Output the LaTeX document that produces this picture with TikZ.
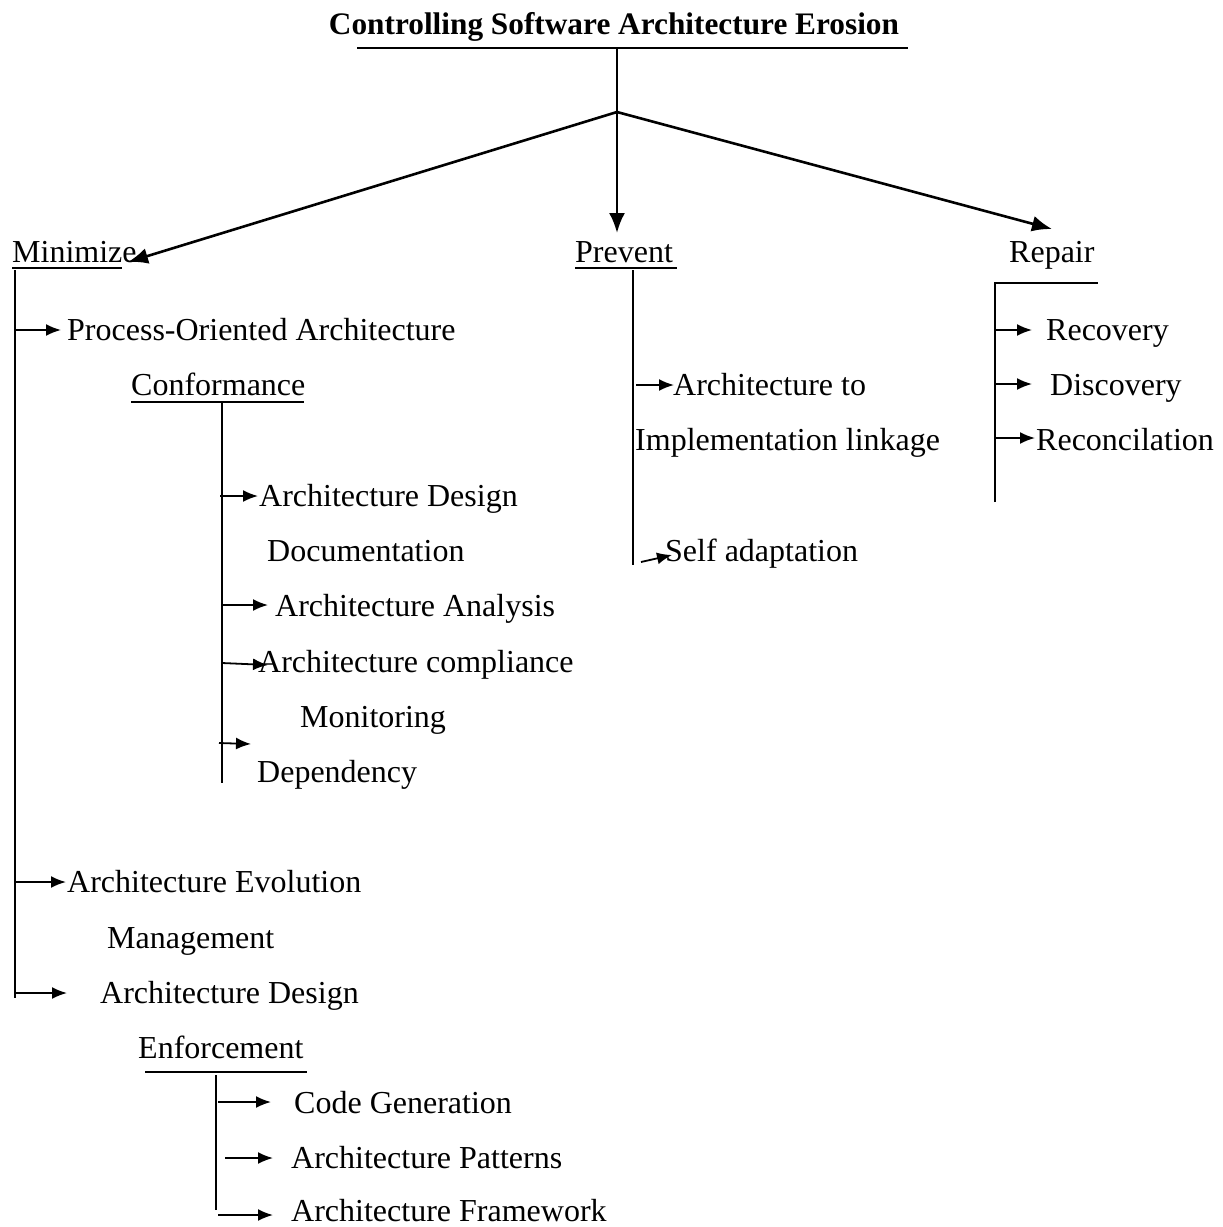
\documentclass[tikz,border=0pt]{standalone}
\usepackage{fontspec}
\setmainfont{Liberation Serif}
\usetikzlibrary{arrows.meta}

\begin{document}
\begin{tikzpicture}[x=1pt,y=-1pt,
		txt/.style={anchor=base west,inner sep=0pt,font=\fontsize{32}{38}\selectfont},
		ln/.style={line width=1.6pt},
		br/.style={-{Latex[length=15pt,width=12pt]},line width=1.8pt},
		top/.style={-{Latex[length=20pt,width=16pt]},line width=2.6pt}]
	\useasboundingbox (0,0) rectangle (1223,1227);
	%% title
	\node (title) at (614,34) [anchor=base,inner sep=0pt,font=\fontsize{31.3}{37}\selectfont\bfseries] {Controlling Software Architecture Erosion};
	\coordinate (tl) at (357,48);
	\coordinate (tr) at (908,48);
	\coordinate (tm) at (617,48);
	\coordinate (fork) at (617,112);
	\draw[ln] (tl) -- (tr);
	\draw[ln] (tm) -- (fork);
	%% three branches
	\node (mini) at (12,262) [txt] {Minimize};
	\node (prev) at (575,262) [txt] {Prevent};
	\node (rep) at (1009,262) [txt] {Repair};
	\coordinate (minitip) at (128,262);
	\coordinate (prevtip) at (617,233);
	\coordinate (reptip) at (1052,229);
	\draw[top] (fork) -- (minitip);
	\draw[top] (fork) -- (prevtip);
	\draw[top] (fork) -- (reptip);
	\draw[ln] (12,268) -- (122,268);
	\draw[ln] (575,268) -- (677,268);
	%% minimize
	\coordinate (m0) at (15,270);
	\coordinate (m1) at (15,998);
	\draw[ln] (m0) -- (m1);
	\node (poa) at (67,340) [txt] {Process-Oriented Architecture};
	\node (conf) at (131,395) [txt] {Conformance};
	\draw[ln] (131,402) -- (304,402);
	\coordinate (pa) at (15,330);
	\coordinate (pb) at (61,330);
	\draw[br] (pa) -- (pb);
	\coordinate (c0) at (222,402);
	\coordinate (c1) at (222,783);
	\draw[ln] (c0) -- (c1);
	\node (add) at (259,506) [txt] {Architecture Design};
	\node (doc) at (267,561) [txt] {Documentation};
	\node (ana) at (275,616) [txt] {Architecture Analysis};
	\node (comp) at (258,672) [txt] {Architecture compliance};
	\node (mon) at (300,727) [txt] {Monitoring};
	\node (dep) at (257,782) [txt] {Dependency};
	\coordinate (a1) at (220,496); \coordinate (b1) at (258,496);
	\coordinate (a2) at (222,605); \coordinate (b2) at (268,605);
	\coordinate (a3) at (222,663); \coordinate (b3) at (268,665);
	\coordinate (a4) at (219,743); \coordinate (b4) at (251,744);
	\draw[br] (a1) -- (b1);
	\draw[br] (a2) -- (b2);
	\draw[br] (a3) -- (b3);
	\draw[br] (a4) -- (b4);
	\node (evo) at (67,892) [txt] {Architecture Evolution};
	\node (man) at (107,948) [txt] {Management};
	\node (ade) at (100,1003) [txt] {Architecture Design};
	\node (enf) at (138,1058) [txt] {Enforcement};
	\coordinate (a5) at (15,882); \coordinate (b5) at (66,882);
	\coordinate (a6) at (15,993); \coordinate (b6) at (67,993);
	\draw[br] (a5) -- (b5);
	\draw[br] (a6) -- (b6);
	\draw[ln] (145,1072) -- (307,1072);
	\coordinate (e0) at (216,1075);
	\coordinate (e1) at (216,1210);
	\draw[ln] (e0) -- (e1);
	\node (cg) at (294,1113) [txt] {Code Generation};
	\node (pat) at (291,1168) [txt] {Architecture Patterns};
	\node (fw) at (291,1221) [txt] {Architecture Framework};
	\coordinate (a7) at (218,1102); \coordinate (b7) at (271,1102);
	\coordinate (a8) at (225,1158); \coordinate (b8) at (273,1158);
	\coordinate (a9) at (218,1215); \coordinate (b9) at (273,1215);
	\draw[br] (a7) -- (b7);
	\draw[br] (a8) -- (b8);
	\draw[br] (a9) -- (b9);
	%% prevent
	\coordinate (p0) at (633,270);
	\coordinate (p1) at (633,565);
	\draw[ln] (p0) -- (p1);
	\node (ati) at (673,395) [txt] {Architecture to};
	\node (impl) at (635,450) [txt] {Implementation linkage};
	\node (self) at (665,561) [txt] {Self adaptation};
	\coordinate (a10) at (636,385); \coordinate (b10) at (674,385);
	\coordinate (a11) at (641,562); \coordinate (b11) at (672,555);
	\draw[br] (a10) -- (b10);
	\draw[br] (a11) -- (b11);
	%% repair
	\coordinate (r0) at (995,502);
	\coordinate (r1) at (995,283);
	\coordinate (r2) at (1098,283);
	\draw[ln] (r0) -- (r1) -- (r2);
	\node (rec) at (1046,340) [txt] {Recovery};
	\node (dis) at (1050,395) [txt] {Discovery};
	\node (recon) at (1036,450) [txt] {Reconcilation};
	\coordinate (a12) at (995,330); \coordinate (b12) at (1032,330);
	\coordinate (a13) at (995,384); \coordinate (b13) at (1032,384);
	\coordinate (a14) at (995,438); \coordinate (b14) at (1035,438);
	\draw[br] (a12) -- (b12);
	\draw[br] (a13) -- (b13);
	\draw[br] (a14) -- (b14);
\end{tikzpicture}
\end{document}
